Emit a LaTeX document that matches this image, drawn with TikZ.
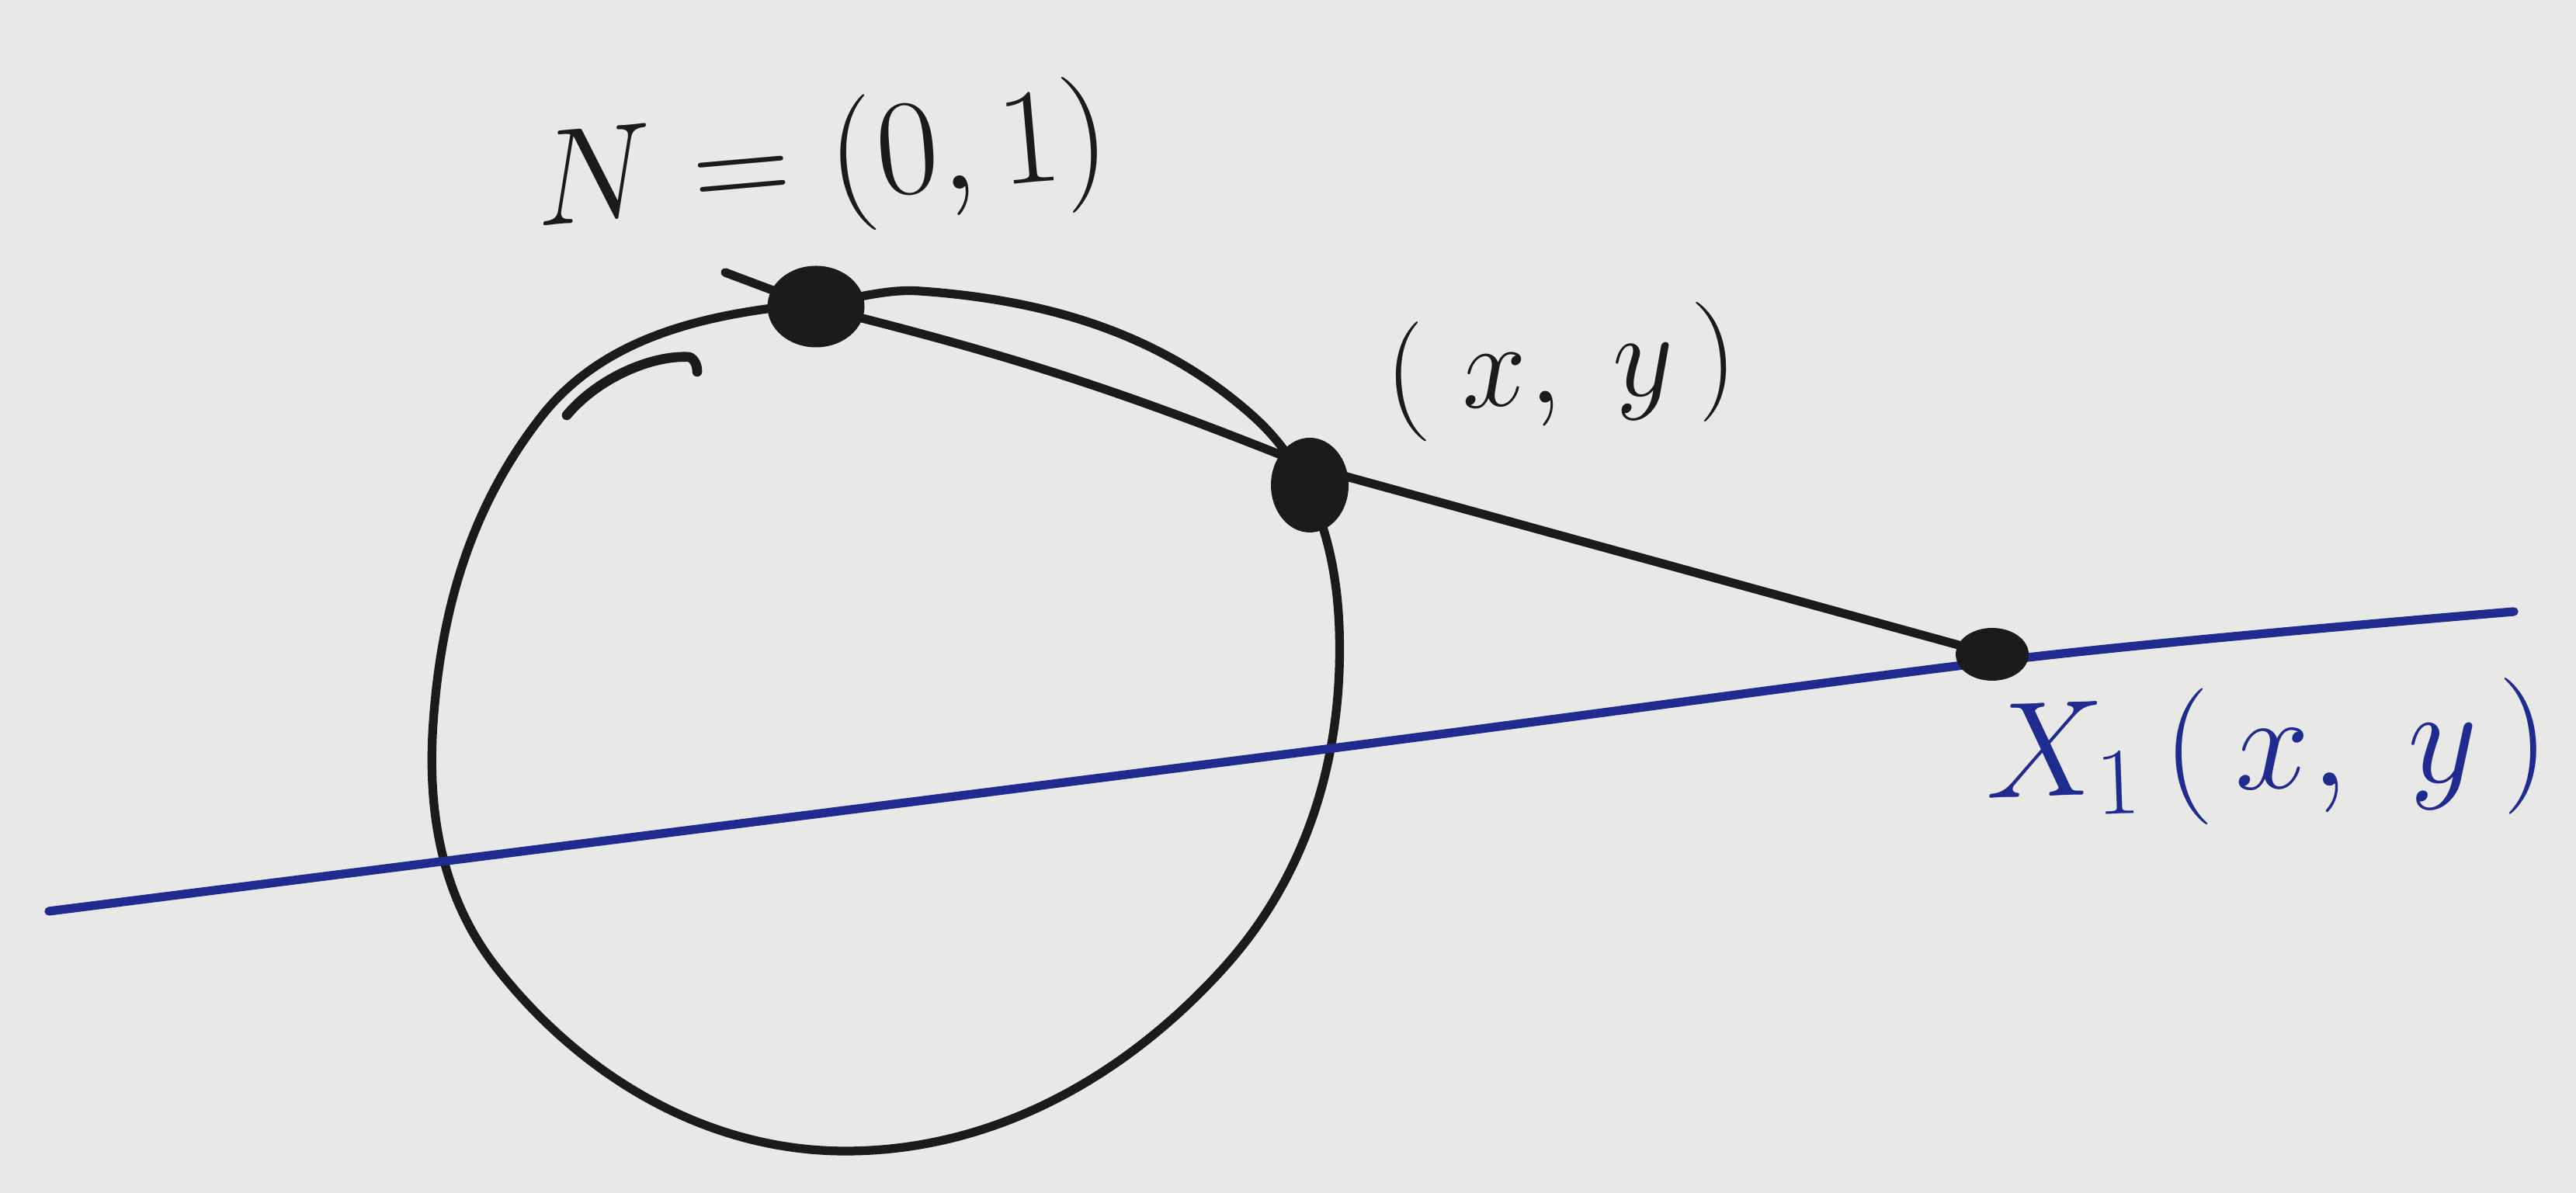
\RequirePackage{fix-cm}
\documentclass[tikz,border=0pt]{standalone}
\usepackage{amsmath}
\usetikzlibrary{positioning, calc, shapes.geometric}
\definecolor{inkBlack}{HTML}{1C1B19}
\definecolor{inkBlue}{HTML}{1F2B8E}
\definecolor{paper}{HTML}{E8E9E7}
\tikzset{
  pen/.style={draw=inkBlack, line width=3.2pt, line cap=round, line join=round},
  bluepen/.style={draw=inkBlue, line width=3.2pt, line cap=round, line join=round},
  dotmark/.style={ellipse, fill=inkBlack, inner sep=0pt},
  lbl/.style={text=inkBlack, inner sep=0pt},
}
\begin{document}
\begin{tikzpicture}

% ── paper ────────────────────────────────────────────────────────────────────
\fill[paper] (0,0) rectangle (33.18,15.37);
\useasboundingbox (0,0) rectangle (33.18,15.37);

% ── points ───────────────────────────────────────────────────────────────────
\coordinate (Nstart) at (9.34, 11.86);
\coordinate (N) at (10.51, 11.42);
\coordinate (P) at (16.87, 9.36);
\coordinate (X1) at (25.66, 6.94);
\coordinate (Lstart) at (0.63, 3.63);
\coordinate (Lcirc) at (17.01, 5.71);
\coordinate (Lhit) at (26.12, 6.90);
\coordinate (Lend) at (32.38, 7.49);

% ── circle (hand drawn) ──────────────────────────────────────────────────────
\draw[pen, looseness=0.9] (11.85, 11.62)
  to[out=-4, in=138] (16.15, 10.00)
  to[out=-42, in=92] (17.25, 7.27)
  to[out=-88, in=48] (15.77, 2.91)
  to[out=-132, in=0] (10.89, 0.54)
  to[out=180, in=-52] (6.39, 2.91)
  to[out=128, in=-94] (5.58, 6.06)
  to[out=86, in=-128] (6.97, 10.00)
  to[out=52, in=-175] (10.51, 11.46)
  to[out=5, in=176] cycle;
% start of the stroke
\draw[pen, line width=3.6pt] (7.30, 10.02) .. controls (7.70, 10.50) and (8.40, 10.80) .. (8.88, 10.77)
  .. controls (8.95, 10.74) and (8.98, 10.66) .. (8.98, 10.58);

% ── blue line ────────────────────────────────────────────────────────────────
\draw[bluepen] plot[smooth, tension=0.5] coordinates {(Lstart) (Lcirc) (Lhit) (Lend)};

% ── projection line ──────────────────────────────────────────────────────────
\draw[pen] (Nstart) -- (N) to[bend left=4] (P) -- (X1);

% ── dots ─────────────────────────────────────────────────────────────────────
\node[dotmark, minimum width=1.25cm, minimum height=1.05cm] (Ndot) at (N) {};
\node[dotmark, minimum width=1.0cm, minimum height=1.22cm] (Pdot) at (16.87, 9.12) {};
\node[dotmark, minimum width=0.94cm, minimum height=0.68cm] (Xdot) at (X1) {};

% ── labels ───────────────────────────────────────────────────────────────────
\node[lbl, rotate=5, font=\fontsize{50}{60}\selectfont] (Nlbl) at (10.59, 13.22) {$N=(0,1)$};
\node[lbl, rotate=4, font=\fontsize{44}{52}\selectfont] (Plbl) at (20.11, 10.58) {$(\;x,\;y\,)$};
\node[lbl, rotate=2, text=inkBlue, font=\fontsize{50}{58}\selectfont] (Xlbl) at (29.20, 5.65)
  {$X_1\,(\,x,\;y\,)$};

\end{tikzpicture}
\end{document}
